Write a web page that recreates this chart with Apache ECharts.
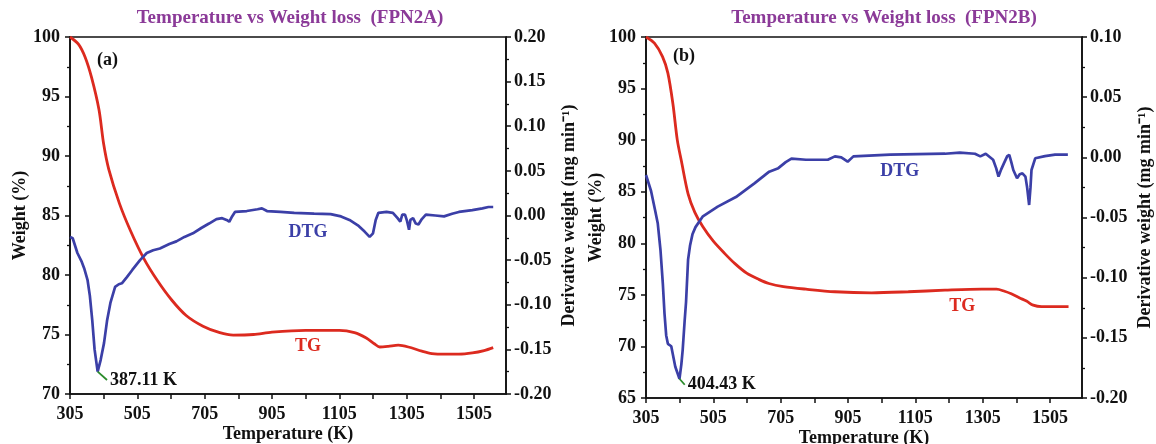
<!DOCTYPE html>
<html><head><meta charset="utf-8">
<script src="https://cdn.jsdelivr.net/npm/echarts@6/dist/echarts.min.js"></script>
<style>html,body{margin:0;padding:0;background:#fff}#c{width:1156px;height:444px}</style>
</head><body><div id="c"></div>
<script>
// ---------- data ----------
const titleA = 'Temperature vs Weight loss  (FPN2A)';
const titleB = 'Temperature vs Weight loss  (FPN2B)';
const xLabelTicks = [305, 505, 705, 905, 1105, 1305, 1505];

const tgA = [[305,100],[330,99.4],[350,98.3],[369,96.6],[391,93.9],[405,91.0],[420,88.9],[452,86.0],[485,83.7],[524,81.4],[563,79.6],[607,77.9],[650,76.6],[700,75.7],[750,75.15],[790,74.95],[850,75.0],[905,75.2],[1005,75.35],[1105,75.35],[1150,75.15],[1185,74.7],[1210,74.2],[1225,73.95],[1250,74.0],[1280,74.1],[1310,73.95],[1350,73.6],[1380,73.4],[1420,73.35],[1460,73.35],[1500,73.45],[1535,73.65],[1562,73.9]];
const dtgA = [[305,-0.024],[313,-0.0255],[327,-0.042],[340,-0.052],[347,-0.059],[357,-0.072],[364,-0.09],[371,-0.117],[378,-0.150],[387.11,-0.175],[396,-0.162],[406,-0.143],[415,-0.118],[425,-0.098],[439,-0.080],[450,-0.077],[459,-0.076],[474,-0.069],[490,-0.061],[513,-0.050],[533,-0.042],[552,-0.039],[572,-0.037],[600,-0.032],[621,-0.029],[645,-0.024],[670,-0.020],[695,-0.014],[718,-0.009],[740,-0.004],[757,-0.003],[770,-0.005],[778,-0.007],[785,-0.002],[795,0.004],[830,0.005],[862,0.007],[875,0.008],[890,0.005],[930,0.004],[971,0.003],[1030,0.002],[1079,0.0015],[1110,-0.001],[1135,-0.005],[1160,-0.011],[1180,-0.018],[1195,-0.024],[1205,-0.020],[1213,-0.005],[1221,0.003],[1245,0.004],[1264,0.003],[1278,-0.003],[1286,-0.007],[1292,0.001],[1300,0.001],[1306,-0.006],[1312,-0.016],[1316,-0.005],[1324,-0.003],[1332,-0.009],[1340,-0.010],[1350,-0.004],[1362,0.001],[1390,0.0],[1416,-0.001],[1440,0.002],[1460,0.004],[1500,0.006],[1530,0.008],[1548,0.0095],[1562,0.0095]];
const leaderA = [[387.11,-0.175],[415,-0.1843]];
const peakLabelA = '387.11 K';

const tgB = [[305,100],[330,99.4],[354,98.1],[370,96.5],[385,93.5],[398,90.0],[410,88.0],[430,84.8],[450,83.0],[474,81.6],[505,80.2],[539,79.0],[570,78.0],[604,77.1],[640,76.5],[670,76.1],[713,75.8],[780,75.55],[866,75.3],[975,75.2],[1084,75.3],[1193,75.45],[1302,75.55],[1346,75.55],[1370,75.35],[1390,75.1],[1415,74.7],[1435,74.4],[1455,74.0],[1480,73.85],[1520,73.85],[1560,73.85]];
const dtgB = [[305,-0.0147],[320,-0.028],[332,-0.044],[340,-0.055],[348,-0.077],[355,-0.105],[360,-0.130],[365,-0.148],[370,-0.155],[380,-0.157],[392,-0.174],[404.43,-0.184],[410,-0.172],[414,-0.160],[420,-0.135],[424,-0.12],[430,-0.085],[436,-0.073],[443,-0.064],[452,-0.058],[474,-0.049],[518,-0.041],[572,-0.033],[627,-0.0216],[671,-0.0119],[698,-0.009],[720,-0.004],[737,-0.001],[780,-0.002],[845,-0.002],[866,0.0008],[885,0.000],[904,-0.0036],[921,0.0008],[1030,0.0022],[1193,0.003],[1237,0.0039],[1282,0.003],[1298,0.0008],[1314,0.003],[1336,-0.002],[1345,-0.009],[1352,-0.016],[1360,-0.010],[1368,-0.005],[1378,0.001],[1384,0.002],[1390,-0.004],[1396,-0.0105],[1407,-0.0174],[1415,-0.014],[1423,-0.0133],[1432,-0.016],[1437,-0.025],[1443,-0.0396],[1447,-0.025],[1450,-0.0105],[1461,-0.0008],[1490,0.001],[1520,0.0022],[1558,0.0022]];
const leaderB = [[404.43,-0.184],[420,-0.189]];
const peakLabelB = '404.43 K';

// curve-label anchors (data coordinates) : [text, panel, axis('w'|'d'), x, y]
const curveLabels = [
  ['DTG', 0, 'd', 1012, -0.0185],
  ['TG', 0, 'w', 1012, 73.97],
  ['DTG', 1, 'd', 1059, -0.012],
  ['TG', 1, 'w', 1244, 73.85]
];

// ---------- style ----------
const FONT = '"Liberation Serif","Times New Roman",serif';
const RED = '#dc2a1f', BLUE = '#3b3fa7', GREEN = '#2b8c2b', PURPLE = '#8b3a98';
const lblStyle = {color:'#111', fontFamily:FONT, fontWeight:'bold', fontSize:18};
const nameStyle = {color:'#111', fontFamily:FONT, fontWeight:'bold', fontSize:18};

const chart = echarts.init(document.getElementById('c'), null, {renderer:'canvas'});

function xAxis(gi){
  return {
    type:'value', gridIndex:gi, min:305, max:1600, interval:100,
    name:'Temperature (K)', nameLocation:'middle', nameGap:31, nameMoveOverlap:false, nameTextStyle:nameStyle,
    axisLine:{show:true, onZero:false, lineStyle:{color:'#111', width:1.6}},
    axisTick:{show:true, inside:false, length:5, lineStyle:{color:'#111', width:1.5}},
    axisLabel:{...lblStyle, margin:11, showMaxLabel:false,
      formatter:v => xLabelTicks.indexOf(Math.round(v))>=0 ? String(Math.round(v)) : ''},
    splitLine:{show:false}
  };
}
function yW(gi, min){
  return {
    type:'value', gridIndex:gi, position:'left', min:min, max:100, interval:5,
    name:'Weight (%)', nameLocation:'middle', nameGap:40, nameTextStyle:nameStyle,
    axisLine:{show:true, onZero:false, lineStyle:{color:'#111', width:1.6}},
    axisTick:{show:true, length:5, lineStyle:{color:'#111', width:1.5}},
    minorTick:{show:true, splitNumber:2, length:3, lineStyle:{color:'#111', width:1.3}},
    axisLabel:{...lblStyle, margin:10},
    splitLine:{show:false}
  };
}
function yD(gi, max){
  return {
    type:'value', gridIndex:gi, position:'right', min:-0.2, max:max, interval:0.05,
    name:'Derivative weight (mg min\u207B\u00B9)', nameLocation:'middle', nameGap:54, nameTextStyle:nameStyle,
    axisLine:{show:true, onZero:false, lineStyle:{color:'#111', width:1.6}},
    axisTick:{show:true, length:5, lineStyle:{color:'#111', width:1.5}},
    minorTick:{show:true, splitNumber:2, length:3, lineStyle:{color:'#111', width:1.3}},
    axisLabel:{...lblStyle, margin:8, formatter:v => (Math.abs(v)<1e-9?0:v).toFixed(2)},
    splitLine:{show:false}
  };
}
function line(data, xi, yi, color, w, smooth){
  return {type:'line', xAxisIndex:xi, yAxisIndex:yi, data:data, showSymbol:false, symbol:'none',
    smooth:smooth, lineStyle:{color:color, width:w}, silent:true, z:3};
}
function leader(data, xi, yi, text){
  return {type:'line', xAxisIndex:xi, yAxisIndex:yi, data:data, showSymbol:false, symbol:'none',
    lineStyle:{color:GREEN, width:1.8}, silent:true, z:4,
    endLabel:{show:true, formatter:text, distance:3, ...lblStyle, fontSize:18}};
}

const gridBase = {show:true, borderColor:'#111', borderWidth:1.6, backgroundColor:'transparent',
  containLabel:false, outerBoundsMode:'none'};
const option = {
  animation:false,
  backgroundColor:'#fff',
  grid:[
    {...gridBase, left:70, top:37, width:436, height:357},
    {...gridBase, left:646, top:37, width:436, height:361}
  ],
  xAxis:[xAxis(0), xAxis(1)],
  yAxis:[yW(0,70), yD(0,0.2), yW(1,65), yD(1,0.1)],
  series:[
    line(tgA,0,0,RED,2.8,0.3),
    line(dtgA,0,1,BLUE,2.7,false),
    leader(leaderA,0,1,peakLabelA),
    line(tgB,1,2,RED,2.8,0.3),
    line(dtgB,1,3,BLUE,2.7,false),
    leader(leaderB,1,3,peakLabelB)
  ]
};
chart.setOption(option);

// titles, panel letters and curve labels
const g = [];
function txt(x,y,text,color,size,align){
  g.push({type:'text', x:x, y:y, silent:true, z:10,
    style:{text:text, fill:color, font:'bold '+size+'px '+FONT, align:align||'center', verticalAlign:'middle'}});
}
txt(290, 18, titleA, PURPLE, 19);
txt(884, 18, titleB, PURPLE, 19);
txt(97, 60, '(a)', '#111', 18, 'left');
txt(673, 56, '(b)', '#111', 18, 'left');
curveLabels.forEach(([t,p,ax,x,y])=>{
  const yi = p*2 + (ax==='w'?0:1);
  const px = chart.convertToPixel({xAxisIndex:p, yAxisIndex:yi}, [x,y]);
  txt(px[0], px[1], t, t==='TG'?RED:BLUE, 18);
});
chart.setOption({graphic:g});
</script></body></html>
